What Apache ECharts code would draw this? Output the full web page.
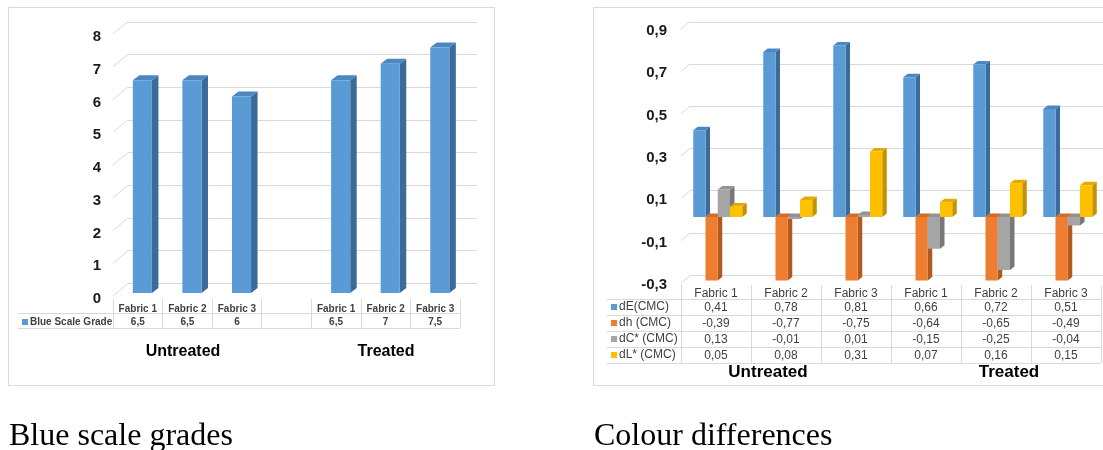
<!DOCTYPE html>
<html>
<head>
<meta charset="utf-8">
<script src="https://cdn.jsdelivr.net/npm/echarts@6/dist/echarts.min.js"></script>
<style>
  html, body { margin: 0; padding: 0; background: #ffffff; }
  #main { width: 1103px; height: 450px; }
</style>
</head>
<body>
<div id="main"></div>
<script>
// ---- data ----
const blueCategories = ['Fabric 1', 'Fabric 2', 'Fabric 3', '', 'Fabric 1', 'Fabric 2', 'Fabric 3'];
const blueScaleGrade = [6.5, 6.5, 6, null, 6.5, 7, 7.5];
const blueTicks = [0, 1, 2, 3, 4, 5, 6, 7, 8];

const diffCategories = ['Fabric 1', 'Fabric 2', 'Fabric 3', 'Fabric 1', 'Fabric 2', 'Fabric 3'];
const dE = [0.41, 0.78, 0.81, 0.66, 0.72, 0.51];
const dh = [-0.39, -0.77, -0.75, -0.64, -0.65, -0.49];
const dC = [0.13, -0.01, 0.01, -0.15, -0.25, -0.04];
const dL = [0.05, 0.08, 0.31, 0.07, 0.16, 0.15];
const diffNames = ['dE(CMC)', 'dh (CMC)', 'dC* (CMC)', 'dL* (CMC)'];
const diffTicks = [-0.3, -0.1, 0.1, 0.3, 0.5, 0.7, 0.9];

const groupNames = ['Untreated', 'Treated'];
const captions = ['Blue scale grades', 'Colour differences'];

// ---- styling ----
const SANS = '"Liberation Sans", Arial, sans-serif';
const SERIF = '"Liberation Serif", "Times New Roman", serif';
const GRID_COLOR = '#d9d9d9';
const TEXT = '#404040';
const faces = {
  blue:   { front: '#5b9bd5', side: '#3b6b9b', top: '#4c87c2' },
  orange: { front: '#ed7d31', side: '#b05a1f', top: '#d46a25' },
  gray:   { front: '#a5a5a5', side: '#787878', top: '#939393' },
  yellow: { front: '#ffc000', side: '#c39200', top: '#e5ab00' }
};
const diffFaces = [faces.blue, faces.orange, faces.gray, faces.yellow];

const fmt = v => (v === null || v === undefined) ? '' : String(v).replace('.', ',');

// 3D-looking column: front rectangle, right side face and top face
function column3d(face, cfg) {
  return function (params, api) {
    const i = api.value(0);
    const v = Math.max(api.value(1), cfg.min);
    const band = api.size([1, 0])[0];
    const c0 = api.coord([i, 0]);
    const c1 = api.coord([i, v]);
    const w = band * cfg.widthRatio;
    const x0 = c0[0] - band / 2 + band * cfg.startRatio + w * cfg.slot;
    const yTop = Math.min(c0[1], c1[1]) + cfg.shiftY;
    const yBot = Math.max(c0[1], c1[1]) + cfg.shiftY;
    const dx = cfg.dx, dy = cfg.dy;
    return {
      type: 'group',
      children: [
        { type: 'polygon', shape: { points: [[x0 + w, yTop], [x0 + w + dx, yTop - dy], [x0 + w + dx, yBot - dy], [x0 + w, yBot]] }, style: { fill: face.side } },
        { type: 'polygon', shape: { points: [[x0, yTop], [x0 + dx, yTop - dy], [x0 + w + dx, yTop - dy], [x0 + w, yTop]] }, style: { fill: face.top } },
        { type: 'rect', shape: { x: x0, y: yTop, width: w, height: yBot - yTop }, style: { fill: face.front } }
      ]
    };
  };
}

// short side-wall lines joining the front plane to the back wall
function sideWall(dx, dy, offY) {
  return function (params, api) {
    const p = api.coord([0, api.value(1)]);
    const x = params.coordSys.x;
    const y = p[1] + offY;
    return { type: 'line', shape: { x1: x, y1: y, x2: x + dx, y2: y - dy }, style: { stroke: GRID_COLOR, lineWidth: 1 } };
  };
}

const chart = echarts.init(document.getElementById('main'));

const xAxes = [
  { gridIndex: 0, type: 'category', data: blueCategories,
    axisLine: { show: false, onZero: false },
    axisTick: { show: true, interval: 0, length: 29, lineStyle: { color: GRID_COLOR } },
    axisLabel: { interval: 0, margin: 5, fontSize: 10, fontWeight: 'bold', color: TEXT, fontFamily: SANS } },
  { gridIndex: 0, type: 'category', position: 'bottom', offset: 13,
    data: blueScaleGrade.map(fmt),
    axisLine: { show: false, onZero: false }, axisTick: { show: false },
    axisLabel: { interval: 0, margin: 5, fontSize: 10, fontWeight: 'bold', color: TEXT, fontFamily: SANS } },
  { gridIndex: 1, type: 'category', data: blueCategories, show: false },
  { gridIndex: 2, type: 'category', data: diffCategories,
    axisLine: { show: false, onZero: false },
    axisTick: { show: true, interval: 0, length: 78, lineStyle: { color: GRID_COLOR } },
    axisLabel: { interval: 0, margin: 3, fontSize: 12, color: TEXT, fontFamily: SANS } }
];
[dE, dh, dC, dL].forEach((arr, k) => {
  xAxes.push({ gridIndex: 2, type: 'category', position: 'bottom', offset: 15 + 16 * k,
    data: arr.map(fmt), axisLine: { show: false, onZero: false }, axisTick: { show: false },
    axisLabel: { interval: 0, margin: 2, fontSize: 12, color: TEXT, fontFamily: SANS } });
});
xAxes.push({ gridIndex: 3, type: 'category', data: diffCategories, show: false });

const yAxes = [
  { gridIndex: 0, type: 'value', min: 0, max: 8, interval: 1,
    axisLine: { show: false }, axisTick: { show: false }, splitLine: { show: false },
    axisLabel: { margin: 12, fontSize: 15, fontWeight: 'bold', color: '#1a1a1a', fontFamily: SANS } },
  { gridIndex: 1, type: 'value', min: 0, max: 8, interval: 1,
    axisLine: { show: false }, axisTick: { show: false }, axisLabel: { show: false },
    splitLine: { show: true, lineStyle: { color: GRID_COLOR } } },
  { gridIndex: 2, type: 'value', min: -0.3, max: 0.9, interval: 0.2,
    axisLine: { show: false }, axisTick: { show: false }, splitLine: { show: false },
    axisLabel: { margin: 14, fontSize: 15, fontWeight: 'bold', color: '#1a1a1a', fontFamily: SANS,
      formatter: v => v.toFixed(1).replace('.', ',') } },
  { gridIndex: 3, type: 'value', min: -0.3, max: 0.9, interval: 0.2,
    axisLine: { show: false }, axisTick: { show: false }, axisLabel: { show: false },
    splitLine: { show: true, lineStyle: { color: GRID_COLOR } } }
];

const series = [
  { type: 'custom', silent: true, xAxisIndex: 0, yAxisIndex: 0,
    data: blueTicks.map(t => [0, t]), renderItem: sideWall(15, 12.5, -3) },
  { type: 'custom', name: 'Blue Scale Grade', xAxisIndex: 0, yAxisIndex: 0,
    itemStyle: { color: faces.blue.front },
    data: blueScaleGrade.map((v, i) => [i, v]).filter(d => d[1] !== null),
    renderItem: column3d(faces.blue, { min: 0, widthRatio: 0.385, startRatio: 0.4, slot: 0, shiftY: -6, dx: 6.5, dy: 5 }) },
  { type: 'custom', silent: true, xAxisIndex: 3, yAxisIndex: 2,
    data: diffTicks.map(t => [0, t]), renderItem: sideWall(9, 7.5, -2) }
];
[dE, dh, dC, dL].forEach((arr, k) => {
  series.push({ type: 'custom', name: diffNames[k], xAxisIndex: 3, yAxisIndex: 2,
    itemStyle: { color: diffFaces[k].front },
    data: arr.map((v, i) => [i, v]),
    renderItem: column3d(diffFaces[k], { min: -0.3, widthRatio: 0.175, startRatio: 0.175, slot: k, shiftY: -4.5, dx: 4.5, dy: 3.5 }) });
});

const hLine = (x1, x2, y) => ({ type: 'line', silent: true, shape: { x1, y1: y, x2, y2: y }, style: { stroke: GRID_COLOR, lineWidth: 1 } });
const label = (text, x, y, size, bold, family, align) => ({
  type: 'text', silent: true, x, y,
  style: { text, fill: '#000', font: (bold ? 'bold ' : '') + size + 'px ' + family, textAlign: align, textVerticalAlign: 'middle' }
});

chart.setOption({
  animation: false,
  backgroundColor: '#ffffff',
  grid: [
    { left: 113, top: 37, width: 347, height: 262 },
    { left: 128, top: 22, width: 349, height: 261 },
    { left: 681, top: 31, width: 420, height: 254 },
    { left: 690, top: 22, width: 413, height: 253 }
  ],
  xAxis: xAxes,
  yAxis: yAxes,
  legend: [
    { data: ['Blue Scale Grade'], left: 17, top: 312, itemWidth: 6, itemHeight: 6, icon: 'rect', selectedMode: false,
      textStyle: { fontSize: 10, fontWeight: 'bold', color: TEXT, fontFamily: SANS, padding: [0, 0, 0, -3] } },
    { data: diffNames, orient: 'vertical', left: 606, top: 295, itemWidth: 6, itemHeight: 6, itemGap: 2, icon: 'rect', selectedMode: false,
      textStyle: { fontSize: 12, color: TEXT, fontFamily: SANS, lineHeight: 14, padding: [0, 0, 0, -3] } }
  ],
  series: series,
  graphic: [
    { type: 'rect', silent: true, shape: { x: 8.5, y: 7.5, width: 486, height: 378 }, style: { fill: 'none', stroke: GRID_COLOR, lineWidth: 1 } },
    { type: 'rect', silent: true, shape: { x: 593.5, y: 7.5, width: 520, height: 378 }, style: { fill: 'none', stroke: GRID_COLOR, lineWidth: 1 } },
    hLine(18, 460, 313.5), hLine(18, 460, 328.5),
    hLine(607, 1101, 299.5), hLine(607, 1101, 315.5), hLine(607, 1101, 331.5), hLine(607, 1101, 347.5), hLine(607, 1101, 363.5),
    label(groupNames[0], 183, 352, 16, true, SANS, 'center'),
    label(groupNames[1], 386, 352, 16, true, SANS, 'center'),
    label(groupNames[0], 768, 372, 17, true, SANS, 'center'),
    label(groupNames[1], 1009, 372, 17, true, SANS, 'center'),
    label(captions[0], 9, 437, 32, false, SERIF, 'left'),
    label(captions[1], 594, 437, 32, false, SERIF, 'left')
  ]
});
</script>
</body>
</html>
